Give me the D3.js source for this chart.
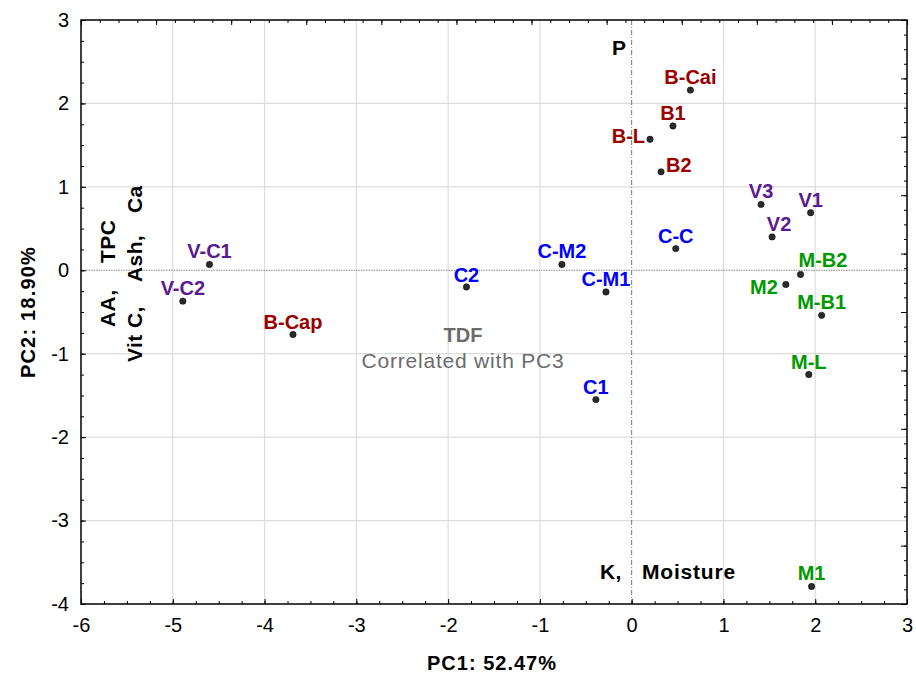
<!DOCTYPE html>
<html>
<head>
<meta charset="utf-8">
<script src="https://cdn.jsdelivr.net/npm/d3@7/dist/d3.min.js"></script>
<style>
html,body{margin:0;padding:0;background:#fff;}
svg{display:block;font-family:"Liberation Sans",Arial,sans-serif;}
</style>
</head>
<body>
<svg id="chart" width="916" height="675"></svg>
<script>
// ---------- data ----------
const samples = ["V-C1","V-C2","B-Cap","C2","C-M2","C-M1","C1","B-Cai","B1","B-L","B2","V3","V1","V2","C-C","M-B2","M2","M-B1","M-L","M1"];
const pc1 = [-4.60,-4.89,-3.69,-1.80,-0.76,-0.28,-0.39,0.64,0.45,0.20,0.32,1.41,1.95,1.53,0.48,1.84,1.68,2.07,1.93,1.96];
const pc2 = [0.07,-0.37,-0.77,-0.20,0.07,-0.26,-1.55,2.16,1.73,1.57,1.18,0.79,0.69,0.40,0.26,-0.05,-0.17,-0.54,-1.25,-3.79];
const groups = ["V","V","B","C","C","C","C","B","B","B","B","V","V","V","C","M","M","M","M","M"];
const xTicks = [-6,-5,-4,-3,-2,-1,0,1,2,3];
const yTicks = [3,2,1,0,-1,-2,-3,-4];
const xTitle = "PC1: 52.47%";
const yTitle = "PC2: 18.90%";

// ---------- styles / layout ----------
const groupColor = {B:"#990000", V:"#5b1a8f", C:"#0000ff", M:"#009a00"};
// label placement: [anchor, dx, dy]
const labelPlace = {
  "B-L":["end",-5,4], "B2":["start",5,0], "V2":["middle",7,-6],
  "M-B2":["start",-2,-7], "M2":["end",-8,10], "C2":["middle",0,-5]
};
const fmt = d => String(d); // plain hyphen-minus

const svg = d3.select("#chart");
const L = 81, R = 907, T = 20, B = 604;
const x = d3.scaleLinear().domain([-6,3]).range([L,R]);
const y = d3.scaleLinear().domain([-4,3]).range([B,T]);

// grid
const g = svg.append("g");
g.selectAll(".vg").data(xTicks.filter(d=>d>-6&&d<3&&d!==0)).join("line")
  .attr("x1",d=>x(d)).attr("x2",d=>x(d)).attr("y1",T).attr("y2",B)
  .attr("stroke","#dcdcdc").attr("stroke-width",1.2);
g.selectAll(".hg").data(yTicks.filter(d=>d>-4&&d<3&&d!==0)).join("line")
  .attr("x1",L).attr("x2",R).attr("y1",d=>y(d)).attr("y2",d=>y(d))
  .attr("stroke","#dcdcdc").attr("stroke-width",1.2);

// zero lines
g.append("line").attr("x1",x(0)).attr("x2",x(0)).attr("y1",T).attr("y2",B)
  .attr("stroke","#777").attr("stroke-width",1).attr("stroke-dasharray","5,2,1,2");
g.append("line").attr("x1",L).attr("x2",R).attr("y1",y(0)).attr("y2",y(0))
  .attr("stroke","#888").attr("stroke-width",1).attr("stroke-dasharray","1.5,1");

// axes with inward ticks
const minorX = d3.range(-6,3.001,0.25);
const minorY = d3.range(-4,3.001,0.25);
const bottom = svg.append("g").attr("transform",`translate(0,${B})`);
bottom.call(d3.axisBottom(x).tickValues(minorX).tickSize(-3).tickFormat(""));
bottom.select(".domain").remove();
const bottomMaj = svg.append("g").attr("transform",`translate(0,${B})`)
  .call(d3.axisBottom(x).tickValues(xTicks).tickSize(-5).tickPadding(14).tickFormat(fmt));
bottomMaj.select(".domain").remove();
bottomMaj.selectAll("text").attr("font-size",20).attr("fill","#000").attr("font-family","Liberation Sans, Arial, sans-serif");

const left = svg.append("g").attr("transform",`translate(${L},0)`);
left.call(d3.axisLeft(y).tickValues(minorY).tickSize(-3).tickFormat(""));
left.select(".domain").remove();
const leftMaj = svg.append("g").attr("transform",`translate(${L},0)`)
  .call(d3.axisLeft(y).tickValues(yTicks).tickSize(-5).tickPadding(12).tickFormat(fmt));
leftMaj.select(".domain").remove();
leftMaj.selectAll("text").attr("font-size",20).attr("fill","#000").attr("font-family","Liberation Sans, Arial, sans-serif");

// top and right secondary axes (ticks only)
const xTop = d3.scaleLinear().domain([0,11]).range([L,R]);
const yRight = d3.scaleLinear().domain([0,10]).range([B,T]);
const topA = svg.append("g").attr("transform",`translate(0,${T})`);
topA.call(d3.axisTop(xTop).tickValues(d3.range(0,11.001,0.25)).tickSize(-3).tickFormat(""));
topA.select(".domain").remove();
const topM = svg.append("g").attr("transform",`translate(0,${T})`);
topM.call(d3.axisTop(xTop).tickValues(d3.range(0,12,1)).tickSize(-5).tickFormat(""));
topM.select(".domain").remove();
const rightA = svg.append("g").attr("transform",`translate(${R},0)`);
rightA.call(d3.axisRight(yRight).tickValues(d3.range(0,10.001,0.25)).tickSize(-3).tickFormat(""));
rightA.select(".domain").remove();
const rightM = svg.append("g").attr("transform",`translate(${R},0)`);
rightM.call(d3.axisRight(yRight).tickValues(d3.range(0,11,1)).tickSize(-6).tickFormat(""));
rightM.select(".domain").remove();
svg.selectAll(".tick line").attr("stroke","#000").attr("stroke-width",1);

// frame
svg.append("rect").attr("x",L).attr("y",T).attr("width",R-L).attr("height",B-T)
  .attr("fill","none").attr("stroke","#000").attr("stroke-width",1.5);

// axis titles
svg.append("text").attr("x",(L+R)/2 - 2).attr("y",670).attr("text-anchor","middle")
  .attr("font-size",20).attr("font-weight","bold").attr("letter-spacing",1).text(xTitle);
svg.append("text").attr("transform",`translate(35,${(T+B)/2}) rotate(-90)`).attr("text-anchor","middle")
  .attr("font-size",20).attr("font-weight","bold").attr("letter-spacing",1.2).text(yTitle);

// variable annotations
const ann = svg.append("g").attr("font-weight","bold").attr("font-size",21).attr("fill","#000").attr("letter-spacing",0.4);
ann.append("text").attr("x",612).attr("y",55).text("P");
ann.append("text").attr("x",600).attr("y",579).text("K,");
ann.append("text").attr("x",642).attr("y",579).attr("letter-spacing",0.8).text("Moisture");
const rot = [["AA,",115,327],["TPC",115,263],["Vit C,",142,362],["Ash,",142,282],["Ca",142,213]];
rot.forEach(r=>ann.append("text").attr("transform",`translate(${r[1]},${r[2]}) rotate(-90)`).text(r[0]));
svg.append("text").attr("x",463).attr("y",342).attr("text-anchor","middle").attr("font-size",20)
  .attr("font-weight","bold").attr("fill","#6b6b6b").text("TDF");
svg.append("text").attr("x",463).attr("y",368).attr("text-anchor","middle").attr("font-size",21)
  .attr("letter-spacing",0.8).attr("fill","#6b6b6b").text("Correlated with PC3");

// points
const pts = samples.map((s,i)=>({name:s,x:pc1[i],y:pc2[i],g:groups[i]}));
svg.append("g").selectAll("circle").data(pts).join("circle")
  .attr("cx",d=>x(d.x)).attr("cy",d=>y(d.y)).attr("r",3.2)
  .attr("fill","#2b2b2b").attr("stroke","#000").attr("stroke-width",0.5);
// labels
svg.append("g").selectAll("text").data(pts).join("text")
  .attr("x",d=>x(d.x)+(labelPlace[d.name]?labelPlace[d.name][1]:0))
  .attr("y",d=>y(d.y)+(labelPlace[d.name]?labelPlace[d.name][2]:-6))
  .attr("text-anchor",d=>labelPlace[d.name]?labelPlace[d.name][0]:"middle")
  .attr("font-size",20).attr("font-weight","bold")
  .attr("fill",d=>groupColor[d.g]).text(d=>d.name);
</script>
</body>
</html>
